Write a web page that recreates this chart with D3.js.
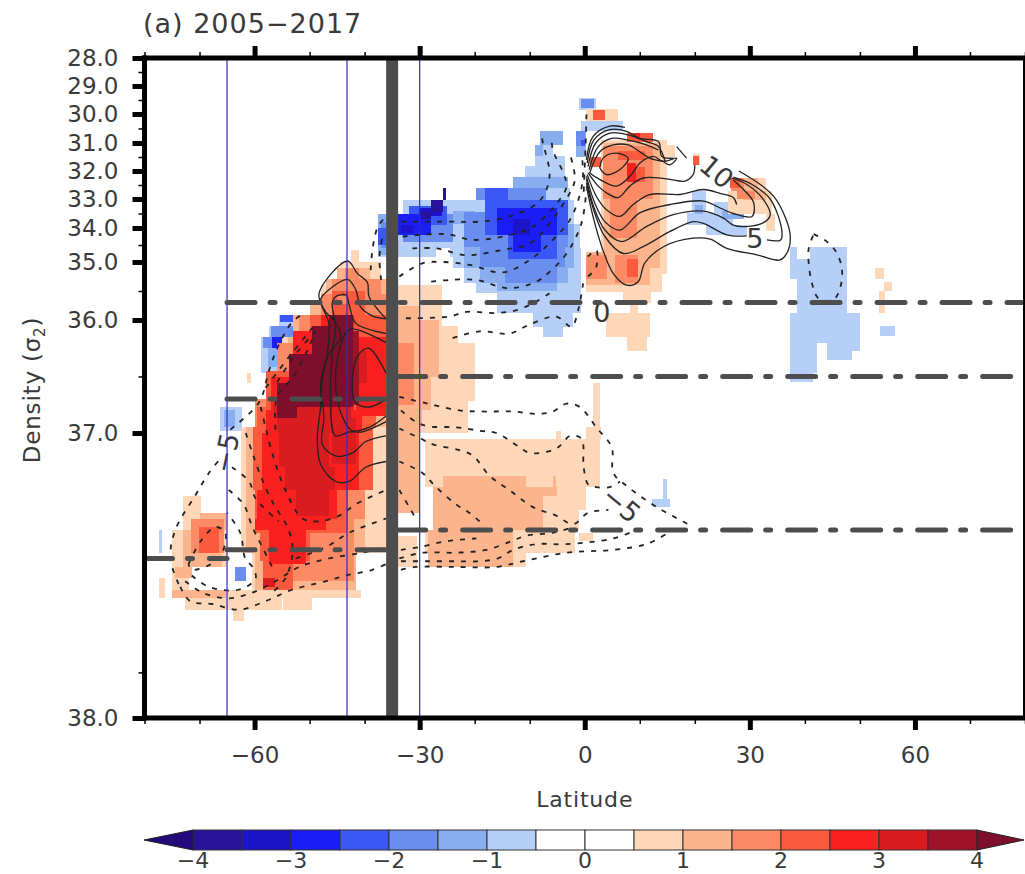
<!DOCTYPE html>
<html>
<head>
<meta charset="utf-8">
<script src="https://cdn.jsdelivr.net/npm/d3@7"></script>
<style>
  html, body { margin: 0; padding: 0; background: #fff; }
  svg { display: block; }
  text { font-family: "DejaVu Sans", sans-serif; fill: #3a3a3a; }
  .tick text { font-size: 23px; fill: #3a3a3a; }
</style>
</head>
<body>
<svg id="chart"></svg>
<script>
// axes
const latTicks = [-60, -30, 0, 30, 60];
const latMinorTicks = [-80, -70, -50, -40, -20, -10, 10, 20, 40, 50, 70, 80];
const densityBreaks = [28, 29, 30, 31, 32, 33, 34, 35, 36, 37, 38];
const densityMinorTicks = [28.5, 29.5, 30.5, 31.5, 32.5, 33.5, 34.5, 35.5, 36.5, 37.84];
const colorBreaks = [-4, -3.5, -3, -2.5, -2, -1.5, -1, -0.5, 0, 0.5, 1, 1.5, 2, 2.5, 3, 3.5, 4];
const colorLabels = [-4, -3, -2, -1, 0, 1, 2, 3, 4];
const colorList = ['#220a7a', '#28129a', '#1c14c8', '#1a1ef5', '#3a58f5', '#6a8ef0', '#88aef0', '#b5cff8',
  '#ffffff', '#ffffff', '#fdd7b8', '#fcb48c', '#fc8a64', '#fb5a3c', '#fb2020', '#d81c20', '#a01228', '#7d0f2c'];

// reference lines
const blueLats = [-65, -43.2, -30];
const thickLat = -35;
const dashSegments = [
  [-65, 80, 35.7], [-34, 80, 36.5], [-34, 80, 37.34],
  [-65, -36, 36.7], [-65, -36, 37.41], [-80, -65, 37.44]
];

// shading, one list per colour step: [lat west, lat east, density top, density bottom]
const neg1 = [[-1, 2, 29.42, 29.86], [-0.6, 7, 30.23, 30.6], [-8.2, -3.9, 30.6, 31.07], [-9.1, -5.8, 31.07, 31.48],
  [-9.1, -3.5, 31.48, 31.83], [-10.9, -3.5, 31.83, 32.2], [-13, -3, 32.2, 32.6], [-19.7, -2.7, 32.6, 33.03],
  [-33, -2, 33.03, 33.86], [-37.6, -0.8, 33.86, 34.6], [-37.6, -27, 34.6, 34.85], [-24.5, -0.6, 34.6, 34.84],
  [-24, -0.6, 34.84, 35.1], [-22, -0.6, 35.1, 35.36], [-19.7, -0.6, 35.36, 35.54], [-16, -0.6, 35.54, 35.88],
  [-9.4, -2.2, 35.88, 36.06], [-7.5, -4, 36.06, 36.15],
  [19.4, 22, 32.72, 33.9], [18.5, 27, 33.48, 33.9], [23.4, 27, 33.1, 33.5], [22, 29.4, 33.9, 34.2],
  [37.3, 38.6, 34.55, 34.9], [37.3, 41, 34.9, 35.3], [41, 47.7, 34.55, 35.4], [38.5, 47.7, 35.3, 35.88],
  [37.3, 50.1, 35.88, 36.2], [37.3, 42.2, 36.2, 36.47], [44, 50.1, 36.2, 36.27], [44, 48.5, 36.27, 36.35],
  [37.3, 41.5, 36.47, 36.55], [53.6, 56.3, 36.05, 36.14], [12.2, 15.5, 37.23, 37.26], [14.3, 14.9, 37.16, 37.23],
  [-58.9, -54.4, 36.15, 36.47], [-57.4, -52.5, 36.05, 36.15], [-55.6, -50.1, 35.92, 36.05],
  [-66.2, -62.3, 36.77, 36.98], [-77.4, -76.8, 37.34, 37.42]];
const neg2 = [[-1.5, 0.3, 30.6, 31.5], [-22, -2, 33.86, 35.1], [-19, -3, 35.1, 35.36], [-13, -3, 32.2, 32.6],
  [-8.2, -3.9, 30.6, 31.07], [-9.1, -7.5, 31.07, 31.48], [-24, -20, 33.4, 33.86], [-16, -5, 35.36, 35.5],
  [-37.6, -34, 33.5, 34.8], [20, 21.5, 33.2, 33.5], [25, 29, 33.4, 33.7], [-57.6, -55, 36.2, 36.42],
  [-65.5, -63.5, 36.8, 36.95]];
const neg3 = [[-0.6, 1.6, 29.45, 29.8], [-1.5, 0, 30.6, 31.1], [-22, -3, 33.45, 34.55], [-19, -3.5, 34.55, 35.08],
  [-14.5, -5, 35.08, 35.36], [-33, -24, 33.5, 34.4], [-37, -34, 33.8, 34.6], [-57, -52.5, 36.05, 36.15],
  [-19.7, -7, 32.6, 33.03], [-58.5, -55.5, 36.15, 36.25], [-63.5, -61.6, 37.47, 37.52]];
const neg4 = [[-18.2, -3, 33.03, 34.2], [-14, -5, 34.2, 34.9], [-18.2, -14, 32.6, 33.03], [-32, -25, 33.25, 33.9],
  [-37.6, -36.2, 34, 34.5], [-55.4, -52, 35.92, 36.02], [-51.3, -49.8, 35.92, 36.02], [-0.6, 0, 30.9, 31.1]];
const neg5 = [[-16, -5, 33.3, 34.2], [-13, -8, 34.2, 34.7], [-33.9, -27.9, 33.5, 34.2], [-56.8, -55, 36.15, 36.25]];
const neg6 = [[-13, -10, 33.7, 34.2], [-33.3, -31.2, 33.9, 34.15], [-30, -26, 33.3, 33.6]];
const neg7 = [[-27.9, -25.8, 33.03, 33.45], [-25.8, -25.2, 32.6, 33.03], [-29.75, -27.9, 33.45, 33.7]];

const pos1 = [[3, 15, 30.9, 35.2], [0.3, 14, 35.2, 35.52], [7, 12, 35.5, 35.71], [8.2, 9.7, 35.71, 35.88],
  [3.95, 11.8, 35.88, 36.15], [7.6, 11.4, 36.15, 36.27], [0.3, 6, 29.83, 30.23], [13.7, 16.4, 31.07, 31.5],
  [19.7, 21, 31.4, 31.8], [26, 34, 32.7, 33.5], [28.8, 33, 32.25, 32.7], [33, 34.5, 33.5, 34.1],
  [52.8, 54.3, 35.1, 35.3], [54.3, 55.9, 35.35, 35.5], [53.4, 54.6, 35.5, 35.88],
  [-42.5, -41, 34.65, 35], [-44.5, -37, 35, 35.3], [-48, -26, 35.4, 35.7], [-44.5, -34, 35.3, 35.4],
  [-34, -26, 35.7, 36.05], [-34, -23, 36.05, 36.2], [-34, -20, 36.2, 36.72], [-34, -21.2, 36.72, 37],
  [-50, -34, 35.92, 36.15], [-55, -34, 36.15, 36.55], [-58, -34, 36.55, 36.75], [-60, -34, 36.75, 36.95],
  [-62.5, -34, 36.95, 37.42], [-60.5, -42, 37.42, 37.55], [-61.3, -60.7, 36.47, 36.56],
  [-29, 2.7, 37.02, 37.19], [-27.6, 0.3, 37.19, 37.27], [-27.6, -1, 37.27, 37.34], [1.5, 2.7, 36.56, 36.95],
  [0.3, 3, 36.95, 37.02], [-5.2, -4.4, 36.98, 37.02], [-29, -1.8, 37.34, 37.42], [-14, -10.6, 37.42, 37.47],
  [-1.1, 1.5, 37.35, 37.38], [-34, -30.5, 37.36, 37.47],
  [-64.7, -40.7, 37.55, 37.58], [-72.6, -55, 37.58, 37.62], [-54.9, -49.5, 37.58, 37.62], [-64, -62, 37.62, 37.66],
  [-73, -69.8, 37.22, 37.34], [-75, -65, 37.34, 37.47], [-75, -72, 37.47, 37.55], [-77.4, -76.2, 37.51, 37.58],
  [-72, -62.5, 37.55, 37.6]];
const pos2 = [[3.5, 13.7, 31, 35.1], [0.3, 11.8, 34.7, 35.4], [28.8, 33, 32.7, 33.05], [27, 31.5, 32.25, 32.7],
  [-45, -39, 35.1, 35.3], [-47, -36, 35.3, 35.7], [-50, -34, 35.7, 35.92], [-53, -34, 35.92, 36.15],
  [-34, -26.5, 36, 36.5], [-34, -30, 35.75, 36], [-34, -28, 36.5, 36.8], [-34, -29.5, 36.8, 36.95], [-34, -30, 36.95, 37.28],
  [-25.8, -10.6, 37.15, 37.19], [-5.8, -5.2, 37.15, 37.19], [-27.6, -5, 37.19, 37.22], [-27.6, -7.6, 37.22, 37.34],
  [-28.5, -13, 37.34, 37.47], [-61.6, -40, 36.95, 37.42], [-60, -41.5, 37.42, 37.55], [-60, -34, 36.7, 36.95],
  [-57, -34, 36.45, 36.7], [-54, -34, 36.15, 36.45], [-73, -66, 37.34, 37.47], [-74.4, -71.4, 37.47, 37.51],
  [-70, -65, 37.28, 37.34], [-75, -65.2, 37.55, 37.58]];
const pos3 = [[3.3, 12.45, 31.1, 33], [4.5, 9.5, 33, 34.3], [0.3, 4, 34.8, 35.3], [5.5, 9.7, 34.8, 35.36],
  [26.5, 29, 32.25, 32.7], [27.6, 31, 32.7, 33], [-43.5, -41, 35.1, 35.3], [-46, -37, 35.3, 35.55],
  [-48, -34, 35.55, 35.92], [-52, -34, 35.92, 36.2], [-56, -34, 36.2, 36.7], [-34, -31, 36.2, 36.75],
  [-60, -40, 36.7, 37.3], [-58, -42, 37.3, 37.52], [-71.5, -65.5, 37.3, 37.42]];
const pos4 = [[1.5, 3.7, 29.86, 30.2], [7.6, 12.45, 30.65, 30.95], [1, 3, 31.5, 31.85], [6, 11, 31.3, 31.6],
  [8, 11, 31.85, 32.4], [7.6, 9.7, 34.9, 35.25], [19.7, 20.7, 31.45, 31.8], [26.4, 28.2, 32.25, 32.6],
  [-46, -40, 35.5, 35.58], [-46, -45, 35.58, 35.72], [-43.2, -40, 35.58, 35.72], [-46, -40, 35.72, 35.92],
  [-50, -34.5, 35.92, 36.1], [-53, -36, 36.1, 36.45], [-58, -36.5, 36.45, 36.77], [-59.5, -38, 36.77, 36.95],
  [-60.2, -38.5, 36.95, 37.2], [-60, -43, 37.2, 37.35], [-59, -50, 37.35, 37.45], [-58.5, -53, 37.45, 37.55],
  [-70.1, -66.5, 37.33, 37.42]];
const pos5 = [[7.6, 9.4, 31.7, 32.4], [9, 10, 30.65, 30.8], [-41.5, -36.1, 36.15, 36.85], [-48, -42, 35.92, 36.1],
  [-53, -42, 36.1, 36.8], [-57, -42, 36.5, 36.8], [-58, -40.5, 36.8, 37], [-58.6, -41, 37, 37.2], [-59.5, -45, 37.2, 37.3],
  [-60, -47, 37.3, 37.34], [-57.4, -50.7, 37.34, 37.46]];
const pos6 = [[-58.5, -56.2, 37.51, 37.54], [-56.5, -42.5, 36.75, 36.87], [-56, -53, 36.87, 37], [-53, -46, 36.87, 37],
  [-55.5, -46.5, 37, 37.12], [-54.5, -45.3, 37.12, 37.2], [-52.5, -46.5, 37.2, 37.29], [-46, -41.5, 36.87, 37.11],
  [-42.2, -39.5, 36.27, 36.56]];
const pos7 = [[-42.2, -41, 36.1, 36.75]];
const pos8 = [[-46.5, -42.2, 35.92, 36.15], [-49.5, -42.2, 36.05, 36.3], [-53.8, -42.2, 36.3, 36.56],
  [-55.9, -42.2, 36.56, 36.77], [-55.9, -52.2, 36.77, 36.87]];
const heatValues = [-0.75, -1.25, -1.75, -2.25, -2.75, -3.25, -3.75, 0.75, 1.25, 1.75, 2.25, 2.75, 3.25, 3.75, 4.25];
const heatCells = [neg1, neg2, neg3, neg4, neg5, neg6, neg7, pos1, pos2, pos3, pos4, pos5, pos6, pos7, pos8];

// positive contours, [lat, density]
const solidContours = [
  [[0.3,32.54],[1.5,33.6],[3.3,34.65],[5.2,35.2],[7.6,35.4],[9.7,35.34],[10.9,35.02],[14.3,34.55],[19.7,34.3],[22.8,34.33],[25.8,34.6],[31.3,34.79],[35.5,34.94],[37,34.65],[37.3,34.16],[36.1,33.48],[34.3,32.9],[31.9,32.48],[28,32]],
  [[0.3,32.42],[1.8,33.48],[3.65,34.25],[7,34.75],[10.6,34.55],[15.5,34.1],[19.7,33.78],[21.6,33.84],[25.8,34.2],[29.45,34.23]],
  [[33.1,34.35],[35.6,34.35],[35.8,34.06],[33.7,33],[30.4,32.48],[27,32.22]],
  [[0.3,32.3],[1.6,33.25],[3.65,34.06],[6.7,34.4],[11.2,33.95],[16.1,33.54],[21.6,33.42],[25.2,33.66],[27,33.9],[29.15,33.95],[32.8,33.78],[33.7,33.54],[32.2,32.95],[29.45,32.48],[26.7,32.25]],
  [[0.3,32.19],[1.8,33.13],[3.65,33.78],[6.4,34.06],[10,33.48],[15.5,33.19],[21.6,33.07],[24.6,33.31],[27,33.5],[30.4,33.6],[30.7,33.13],[28.85,32.66],[27,32.33]],
  [[0.45,32.13],[2.1,32.9],[3.95,33.37],[6.4,33.6],[8.8,33.19],[11.8,32.84],[17.3,32.84],[21.6,32.66],[24.6,32.8],[27,32.95],[27.6,33.19]],
  [[0.6,32.07],[2.45,32.54],[3.95,32.78],[6.1,32.95],[8.2,32.54],[10.6,32.25],[14.9,32.28],[18.2,32.36],[19.7,32.13],[20,31.78]],
  [[0.9,32.07],[2.7,32.3],[5.8,32.54],[8.2,32.19],[10,31.72],[12.45,31.48],[14.3,31.66],[16.7,31.54],[15.5,31.78],[14.3,31.66]],
  [[0.3,31.6],[1.5,30.78],[4.55,30.42],[7.3,30.46]],
  [[0.45,31.72],[1.64,30.9],[4.55,30.54],[7.6,30.6],[10,30.84],[13.4,30.95],[14,31.48],[16.1,31.54]],
  [[0.6,31.84],[2,31],[4.55,30.66],[7.9,30.72],[11.2,30.95],[13.4,31.13],[14.6,31.66]],
  [[0.8,31.95],[2.45,31.13],[4.86,30.84],[7.9,30.9],[11.2,31.07],[13.4,31.25]],
  [[0.9,32.07],[2.73,31.31],[5.16,31.07],[7.9,31.07],[10,31.31],[11.8,31.54],[14.3,31.66]],
  [[2.73,31.9],[3.34,31.54],[5.47,31.36],[7.9,31.54],[6.4,31.95],[3.95,32.13],[2.73,31.9]],
  [[16.7,31.13],[18.5,31.54]],
  [[-36.1,37.1],[-39.8,37.12],[-42.8,37.17],[-45.3,37.17],[-48,37.11],[-48.6,37.02],[-48,36.77],[-47.7,36.53],[-46.5,36.3],[-44.3,36.15],[-45.6,36],[-47,35.87],[-48.3,35.55],[-43.1,34.97],[-41.3,35.2],[-39.5,35.35],[-39.2,35.6],[-36.1,35.98]],
  [[-36.1,37.01],[-39.8,37.03],[-42.2,37.07],[-45.3,37.08],[-47.7,37.04],[-47.4,36.86],[-48,36.56],[-46.8,36.3],[-46.5,36.03],[-48,35.65],[-46.5,35.48],[-43.1,35.3],[-41.6,35.48],[-40.7,35.78],[-38.6,35.93],[-36.1,35.98]],
  [[-36.1,36.9],[-40.4,36.99],[-42.8,36.99],[-45.3,37.01],[-46.2,36.68],[-45.9,36.3],[-45.3,36.06],[-45.9,35.71],[-45.3,35.6],[-43.4,35.57],[-42.8,35.74],[-41.6,36.03],[-36.1,36.12]],
  [[-36.1,36.85],[-39.2,36.95],[-42.2,36.98],[-44,36.86],[-45.3,36.53],[-44,36.17],[-42.5,36.08],[-36.1,36.2]],
  [[-36.1,36.47],[-39.2,36.25],[-41,36.3],[-42.2,36.5],[-41.6,36.73],[-39.2,36.77],[-36.1,36.7]]
];

// negative contours
const dashedContours = [
  [[41.6,34.18],[44,34.4],[45.85,34.75],[46.75,35.14],[46.45,35.43],[45.2,35.65],[42.5,35.63],[41.3,35.37],[40.7,35.02],[40.7,34.6],[41.6,34.18]],
  [[-33.4,33.78],[-24.6,33.78],[-19.1,33.78],[-13.7,33.6],[-8.2,33.07],[-6.4,32.19],[-7.6,31],[-7.9,30.72]],
  [[-33.1,34.25],[-25.2,34.18],[-20.3,34.35],[-14.9,34.25],[-9.4,33.96],[-4.55,33.02],[-3.3,32.54],[-3.9,32.07],[-5.8,31.25],[-6,30.84]],
  [[-31.3,34.6],[-27,34.6],[-21.5,34.8],[-15.2,34.65],[-10,34.45],[-6.4,33.84],[-2.1,32.54],[-1.8,32.19],[-2.7,31.37]],
  [[-33.7,35.25],[-29.4,35.02],[-25.8,35],[-20.9,35.05],[-14.9,35.18],[-10,34.94],[-5.8,34.35],[-2.7,33.72],[-0.8,32.78],[-0.3,32.07],[-0.6,31.37]],
  [[-27.9,35.34],[-24.6,35.31],[-19.7,35.31],[-14,35.45],[-9,35.35],[-6.4,35.17],[-3.3,34.75],[-0.6,33.84],[0.3,32.66]],
  [[-32.5,35.97],[-24.6,35.94],[-21.5,35.86],[-16.1,35.88],[-12.4,35.83],[-8.8,35.68],[-6.4,35.54]],
  [[-24,36.16],[-19.1,36.1],[-13.7,36.12],[-10,36.04],[-5.2,35.94],[-2.4,36.06],[-1.2,35.83],[-0.3,35.37]],
  [[0.6,35.25],[2.1,35.08],[2.1,34.65],[0.6,34.84]],
  [[-38.9,35.14],[-38.5,34.55],[-37.6,33.96],[-36.4,33.66]],
  [[-37,35.31],[-37.3,34.85],[-36.7,34.2]],
  [[0.3,30.02],[0.2,30.78],[0,31.84],[-0.2,32.8]],
  [[-33.7,36.68],[-28.5,36.74],[-22.8,36.8],[-17.9,36.81],[-13,36.81],[-8.8,36.83],[-5.8,36.81],[-3.3,36.74],[-0.9,36.77],[2.1,36.95],[4.9,37.05],[5.2,37.14],[7.9,37.19],[13.1,37.26],[18.8,37.32]],
  [[-33.4,36.8],[-30.7,36.9],[-28.5,36.94],[-23.4,36.95],[-19.1,36.98],[-16.1,37],[-11.8,37.05],[-10,37.07],[-5.8,37.06],[-4.2,37.04],[-2.7,37.01],[-0.6,37.02],[-0.2,37.12],[0.6,37.18],[2.1,37.19],[4.5,37.19],[6.4,37.17]],
  [[-33.7,36.96],[-29.8,37.02],[-27.6,37.04],[-22.8,37.06],[-20.3,37.08],[-17.3,37.15],[-13.7,37.2],[-9.4,37.26],[-5.2,37.29],[-2.1,37.32],[0.6,37.28],[4.3,37.27]],
  [[-33.7,37.1],[-29.5,37.14],[-27,37.19],[-23.4,37.25],[-21,37.28],[-19.1,37.31]],
  [[-33.7,37.2],[-31.9,37.26],[-30.7,37.3]],
  [[-33.4,37.41],[-30,37.4],[-25.2,37.38],[-19.7,37.37]],
  [[-33.7,37.44],[-29.4,37.42],[-23.4,37.42],[-17.9,37.41],[-13.4,37.38],[-10.6,37.36],[-5.8,37.35],[-2.1,37.33]],
  [[-33.4,37.45],[-28.8,37.45],[-23.4,37.45],[-19.1,37.45],[-15.8,37.44],[-13,37.41],[-8.8,37.39],[-3.3,37.39],[5.2,37.37],[9.4,37.34]],
  [[-33.4,37.48],[-30.7,37.47],[-23.4,37.47],[-16.1,37.47],[-11.2,37.45],[-3.3,37.42],[5.2,37.41],[11.2,37.39],[15.2,37.35]],
  [[-73.8,37.53],[-75.3,37.44],[-74.4,37.34],[-70.8,37.22],[-68.3,37.14],[-66.2,37.09]],
  [[-64.4,36.97],[-59.8,36.77],[-58.6,36.67],[-57.4,36.45],[-55.6,36.22],[-53.2,36.02],[-51.3,35.9]],
  [[-73.5,37.54],[-71.7,37.59],[-67.7,37.6],[-62.9,37.62],[-58,37.59],[-53.2,37.55],[-47,37.52],[-43.4,37.5],[-38.6,37.48],[-36.1,37.46]],
  [[-72.6,37.52],[-69.5,37.56],[-64.7,37.58],[-60.4,37.56],[-56.2,37.52],[-51.9,37.47],[-46.5,37.44],[-40.4,37.42],[-36.1,37.4]],
  [[-71.4,37.5],[-68.3,37.54],[-62.9,37.55],[-59.8,37.51],[-60.4,37.47],[-61.7,37.44],[-62.6,37.35],[-65,37.28]],
  [[-72,37.46],[-69.8,37.38],[-67.1,37.33],[-65.3,37.35],[-66.5,37.44],[-71.4,37.48],[-72,37.46]],
  [[-61.6,37],[-60.4,37.07],[-58.9,37.15],[-56.8,37.24],[-53.8,37.34],[-53.1,37.42],[-54.4,37.51],[-56.8,37.56]],
  [[-58.9,36.77],[-58,36.95],[-56.8,37.07],[-54.4,37.2],[-51.3,37.3],[-48.3,37.31],[-44.6,37.29],[-41.6,37.25],[-36.1,37.2]],
  [[-64.7,37.2],[-62,37.25],[-60.4,37.33],[-58.6,37.4],[-56.8,37.47]],
  [[-64.1,37.12],[-61,37.17],[-59.8,37.23],[-55.6,37.31]],
  [[-52.5,37.44],[-47,37.4],[-42.8,37.35],[-36.1,37.3]],
  [[-55.9,36.55],[-52.5,36.3],[-48.9,36.1]],
  [[-58,36.6],[-53.8,36.33],[-49.5,36.07]],
  [[-56.2,36.97],[-55.9,36.68],[-52.5,36.47],[-49.5,36.17]]
];

// text on the contours: [text, lat, density, rotation]
const contourLabels = [
  ['10', 24, 32.03, 40], ['5', 30.9, 34.3, 0], ['0', 3.1, 35.87, 0],
  ['\u22125', -65.2, 37.07, -78], ['\u22125', 6.7, 37.25, 40]
];

const w = 1025;
const h = 874;
let svg = d3.select('#chart').attr('width', w).attr('height', h);

let xScale = d3.scaleLinear().domain([-80, 80]).range([144.5, 1025]);
let yScale = d3.scaleLinear()
  .domain(densityBreaks)
  .range([58, 86, 114, 143, 171, 199, 228, 262, 320, 433, 718]);
let heatColor = d3.scaleThreshold().domain(colorBreaks).range(colorList);

function fmtLat(d) {
  return d < 0 ? '\u2212' + Math.abs(d) : '' + d;
}

// shading
heatCells.forEach(function(cells, i) {
  svg.append('g')
    .attr('class', 'heat')
    .attr('shape-rendering', 'crispEdges')
    .selectAll('rect')
    .data(cells)
    .join('rect')
    .attr('x', d => xScale(d[0]))
    .attr('y', d => yScale(d[2]))
    .attr('width', d => xScale(d[1]) - xScale(d[0]))
    .attr('height', d => yScale(d[3]) - yScale(d[2]))
    .attr('fill', heatColor(heatValues[i]));
});

// contours
let line = d3.line()
  .x(d => xScale(d[0]))
  .y(d => yScale(d[1]))
  .curve(d3.curveCatmullRom.alpha(0.5));

svg.append('g').selectAll('path')
  .data(dashedContours)
  .join('path')
  .attr('d', line)
  .attr('fill', 'none')
  .attr('stroke', '#222')
  .attr('stroke-width', 1.8)
  .attr('stroke-dasharray', '5 7');

svg.append('g').selectAll('path')
  .data(solidContours)
  .join('path')
  .attr('d', line)
  .attr('fill', 'none')
  .attr('stroke', '#222')
  .attr('stroke-width', 1.3);

svg.append('g').selectAll('text')
  .data(contourLabels)
  .join('text')
  .attr('transform', d => `translate(${xScale(d[1])},${yScale(d[2])}) rotate(${d[3]})`)
  .attr('text-anchor', 'middle')
  .attr('dy', '0.36em')
  .style('font-size', '27px')
  .text(d => d[0]);

// reference lines
svg.append('g').selectAll('line')
  .data(blueLats)
  .join('line')
  .attr('x1', d => xScale(d))
  .attr('x2', d => xScale(d))
  .attr('y1', yScale(28))
  .attr('y2', yScale(38))
  .attr('stroke', '#2c2cc8')
  .attr('stroke-width', 1.2);

svg.append('g').selectAll('line')
  .data(dashSegments)
  .join('line')
  .attr('x1', d => xScale(d[0]))
  .attr('x2', d => xScale(d[1]))
  .attr('y1', d => yScale(d[2]))
  .attr('y2', d => yScale(d[2]))
  .attr('stroke', '#4d4d4d')
  .attr('stroke-width', 5)
  .attr('stroke-linecap', 'round')
  .attr('stroke-dasharray', '28 15 5 17');

svg.append('line')
  .attr('x1', xScale(thickLat))
  .attr('x2', xScale(thickLat))
  .attr('y1', yScale(28))
  .attr('y2', yScale(38))
  .attr('stroke', '#4d4d4d')
  .attr('stroke-width', 12);

// axes
let gBottom = svg.append('g').attr('transform', `translate(0,${yScale(38)})`);
gBottom.call(d3.axisBottom(xScale).tickValues(latTicks).tickSize(12).tickPadding(17).tickFormat(fmtLat));
gBottom.selectAll('line').attr('stroke', '#000').attr('stroke-width', 5);
let gBottomMinor = svg.append('g').attr('transform', `translate(0,${yScale(38)})`);
gBottomMinor.call(d3.axisBottom(xScale).tickValues(latMinorTicks).tickSize(6).tickFormat(''));
gBottomMinor.selectAll('line').attr('stroke', '#000').attr('stroke-width', 1.5);

let gTop = svg.append('g').attr('transform', `translate(0,${yScale(28)})`);
gTop.call(d3.axisTop(xScale).tickValues(latTicks).tickSize(12).tickFormat(''));
gTop.selectAll('line').attr('stroke', '#000').attr('stroke-width', 5);
let gTopMinor = svg.append('g').attr('transform', `translate(0,${yScale(28)})`);
gTopMinor.call(d3.axisTop(xScale).tickValues(latMinorTicks).tickSize(6).tickFormat(''));
gTopMinor.selectAll('line').attr('stroke', '#000').attr('stroke-width', 1.5);

let gLeft = svg.append('g').attr('transform', `translate(${xScale(-80)},0)`);
gLeft.call(d3.axisLeft(yScale).tickValues(densityBreaks).tickSize(12).tickPadding(14).tickFormat(d3.format('.1f')));
gLeft.selectAll('line').attr('stroke', '#000').attr('stroke-width', 5);
let gLeftMinor = svg.append('g').attr('transform', `translate(${xScale(-80)},0)`);
gLeftMinor.call(d3.axisLeft(yScale).tickValues(densityMinorTicks).tickSize(6).tickFormat(''));
gLeftMinor.selectAll('line').attr('stroke', '#000').attr('stroke-width', 1.5);

svg.selectAll('.domain').remove();

// frame
let frame = svg.append('g').attr('stroke', '#000').attr('stroke-linecap', 'square');
frame.append('line').attr('x1', xScale(-80)).attr('x2', xScale(80)).attr('y1', yScale(28)).attr('y2', yScale(28)).attr('stroke-width', 5);
frame.append('line').attr('x1', xScale(-80)).attr('x2', xScale(80)).attr('y1', yScale(38)).attr('y2', yScale(38)).attr('stroke-width', 5);
frame.append('line').attr('x1', xScale(-80)).attr('x2', xScale(-80)).attr('y1', yScale(28)).attr('y2', yScale(38)).attr('stroke-width', 5);
frame.append('line').attr('x1', xScale(80) - 1).attr('x2', xScale(80) - 1).attr('y1', yScale(28)).attr('y2', yScale(38)).attr('stroke-width', 2);

// titles
svg.append('text')
  .attr('x', 143)
  .attr('y', 33)
  .style('font-size', '27px')
  .style('letter-spacing', '1px')
  .text('(a) 2005\u22122017');

svg.append('text')
  .attr('x', xScale(0))
  .attr('y', 807)
  .attr('text-anchor', 'middle')
  .style('font-size', '22px')
  .style('letter-spacing', '0.8px')
  .text('Latitude');

let yLabel = svg.append('text')
  .attr('transform', 'translate(40,390) rotate(-90)')
  .attr('text-anchor', 'middle')
  .style('font-size', '23px')
  .style('letter-spacing', '0.8px');
yLabel.append('tspan').text('Density (\u03c3');
yLabel.append('tspan').attr('dy', 5).style('font-size', '15px').text('2');
yLabel.append('tspan').attr('dy', -5).text(')');

// colour bar
let barScale = d3.scaleLinear().domain([-4, 4]).range([193, 977]);
let barTop = 830, barBottom = 850;
let bar = svg.append('g');
bar.selectAll('rect')
  .data(d3.pairs(colorBreaks))
  .join('rect')
  .attr('x', d => barScale(d[0]))
  .attr('y', barTop)
  .attr('width', d => barScale(d[1]) - barScale(d[0]))
  .attr('height', barBottom - barTop)
  .attr('fill', d => heatColor(d[0]))
  .attr('stroke', '#333')
  .attr('stroke-width', 1);
bar.append('path')
  .attr('d', `M${barScale(-4)},${barTop}L144,${(barTop + barBottom) / 2}L${barScale(-4)},${barBottom}Z`)
  .attr('fill', colorList[0])
  .attr('stroke', '#222');
bar.append('path')
  .attr('d', `M${barScale(4)},${barTop}L1024,${(barTop + barBottom) / 2}L${barScale(4)},${barBottom}Z`)
  .attr('fill', colorList[17])
  .attr('stroke', '#222');
bar.selectAll('text')
  .data(colorLabels)
  .join('text')
  .attr('x', d => barScale(d))
  .attr('y', 868)
  .attr('text-anchor', 'middle')
  .style('font-size', '22px')
  .text(fmtLat);
</script>
</body>
</html>
